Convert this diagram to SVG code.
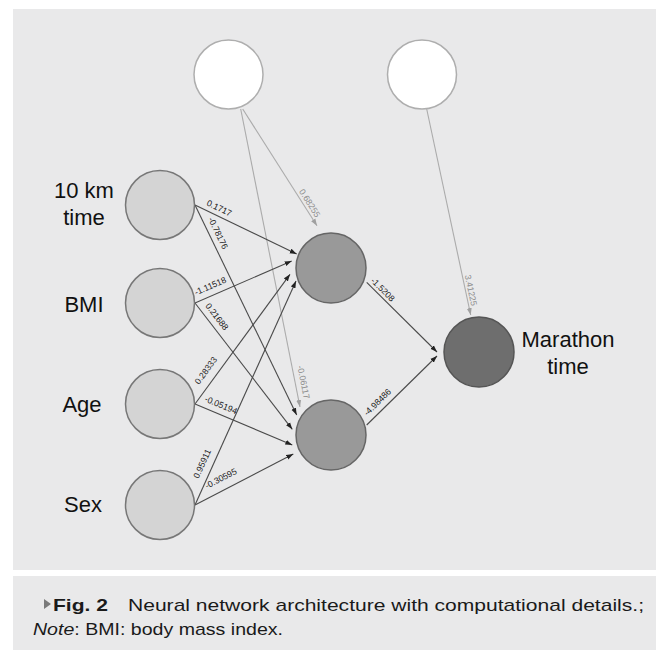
<svg xmlns="http://www.w3.org/2000/svg" width="659" height="651" viewBox="0 0 659 651">
<style>
.lbl{font-family:"Liberation Sans",Arial,sans-serif;font-size:22px;fill:#111}
.w{font-family:"Liberation Sans",Arial,sans-serif;font-size:8.7px;fill:#1a1a1a}
.wb{font-family:"Liberation Sans",Arial,sans-serif;font-size:8.7px;fill:#8c8c8c}
.e{stroke:#4a4a4a;stroke-width:1.1;fill:none}
.eb{stroke:#ababab;stroke-width:1.1;fill:none}
.in{fill:#d4d4d4;stroke:#777;stroke-width:1.5}
.hid{fill:#999;stroke:#666;stroke-width:1.5}
.out{fill:#6e6e6e;stroke:#555;stroke-width:1.5}
.bias{fill:#fff;stroke:#aeaeae;stroke-width:1.5}
.cap{font-family:"Liberation Sans",Arial,sans-serif;font-size:17px;fill:#1a1a1a}
</style>
<defs>
<marker id="ad" markerUnits="userSpaceOnUse" markerWidth="7" markerHeight="6" refX="7" refY="3" orient="auto"><path d="M0,0.5 L7,3 L0,5.5 z" fill="#222"/></marker>
<marker id="ag" markerUnits="userSpaceOnUse" markerWidth="7" markerHeight="6" refX="7" refY="3" orient="auto"><path d="M0,0.5 L7,3 L0,5.5 z" fill="#a0a0a0"/></marker>
</defs>
<rect x="0" y="0" width="659" height="651" fill="#fff"/>
<rect x="13" y="9" width="643" height="561" fill="#e9e9ea"/>
<rect x="13" y="576" width="643" height="74" fill="#e9e9ea"/>

<g id="connectors">
<line class="eb" x1="242.7" y1="109" x2="317" y2="225.7" marker-end="url(#ag)"/>
<line class="eb" x1="240.7" y1="109" x2="300" y2="407" marker-end="url(#ag)"/>
<line class="eb" x1="426.7" y1="109" x2="470.7" y2="315" marker-end="url(#ag)"/>
<line class="e" x1="195" y1="205" x2="296.7" y2="254" marker-end="url(#ad)"/>
<line class="e" x1="195" y1="303" x2="291.7" y2="261" marker-end="url(#ad)"/>
<line class="e" x1="195" y1="404" x2="290" y2="274.3" marker-end="url(#ad)"/>
<line class="e" x1="195" y1="505" x2="296" y2="281" marker-end="url(#ad)"/>
<line class="e" x1="195" y1="205" x2="296.7" y2="415" marker-end="url(#ad)"/>
<line class="e" x1="195" y1="303" x2="292.3" y2="429.3" marker-end="url(#ad)"/>
<line class="e" x1="195" y1="404" x2="292.3" y2="445" marker-end="url(#ad)"/>
<line class="e" x1="195" y1="505" x2="293.3" y2="454" marker-end="url(#ad)"/>
<line class="e" x1="366.7" y1="282.3" x2="437" y2="352" marker-end="url(#ad)"/>
<line class="e" x1="366.7" y1="425" x2="437" y2="356" marker-end="url(#ad)"/>
<text class="w" transform="translate(206,205) rotate(25.7)">0.1717</text>
<text class="w" transform="translate(208,219) rotate(64.2)">-0.78176</text>
<text class="w" transform="translate(196,295.5) rotate(-23.5)">-1.11518</text>
<text class="w" transform="translate(205,306) rotate(52.4)">0.21688</text>
<text class="w" transform="translate(199,385) rotate(-53.8)">0.28333</text>
<text class="w" transform="translate(204,401) rotate(22.9)">-0.05194</text>
<text class="w" transform="translate(198.5,479) rotate(-65.7)">0.95911</text>
<text class="w" transform="translate(207,489) rotate(-27.4)">-0.30595</text>
<text class="w" transform="translate(370.3,281.3) rotate(44.8)">-1.5208</text>
<text class="w" transform="translate(367.3,416.3) rotate(-44.5)">-4.98486</text>
<text class="wb" transform="translate(298.8,191.6) rotate(57.5)">0.68255</text>
<text class="wb" transform="translate(297.3,366.2) rotate(78.7)">-0.06117</text>
<text class="wb" transform="translate(464.8,275.6) rotate(77.9)">3.41225</text>
</g>

<g id="bias1"><circle class="bias" cx="228.5" cy="74.5" r="34.5"/></g>
<g id="bias2"><circle class="bias" cx="422" cy="74.5" r="34.5"/></g>

<g id="in-10km"><circle class="in" cx="160" cy="205" r="34.5"/>
<text class="lbl" x="84" y="198" text-anchor="middle">10 km</text>
<text class="lbl" x="84" y="225" text-anchor="middle">time</text></g>
<g id="in-bmi"><circle class="in" cx="160" cy="303" r="34.5"/>
<text class="lbl" x="84" y="312" text-anchor="middle">BMI</text></g>
<g id="in-age"><circle class="in" cx="160" cy="404" r="34.5"/>
<text class="lbl" x="82" y="412" text-anchor="middle">Age</text></g>
<g id="in-sex"><circle class="in" cx="160" cy="505" r="34.5"/>
<text class="lbl" x="83" y="512" text-anchor="middle">Sex</text></g>

<g id="hidden1"><circle class="hid" cx="331" cy="268" r="35"/></g>
<g id="hidden2"><circle class="hid" cx="331" cy="435" r="35"/></g>

<g id="output"><circle class="out" cx="479" cy="352" r="35"/>
<text class="lbl" x="568" y="347" text-anchor="middle">Marathon</text>
<text class="lbl" x="568" y="374" text-anchor="middle">time</text></g>

<g id="caption">
<path d="M44,599 L51,604 L44,609 z" fill="#7a7a7a"/>
<text class="cap" x="53" y="611" font-weight="bold" textLength="55" lengthAdjust="spacingAndGlyphs">Fig. 2</text>
<text class="cap" x="128" y="611" textLength="516" lengthAdjust="spacingAndGlyphs">Neural network architecture with computational details.;</text>
<text class="cap" x="33" y="635" textLength="250" lengthAdjust="spacingAndGlyphs"><tspan font-style="italic">Note</tspan>: BMI: body mass index.</text>
</g>
</svg>
